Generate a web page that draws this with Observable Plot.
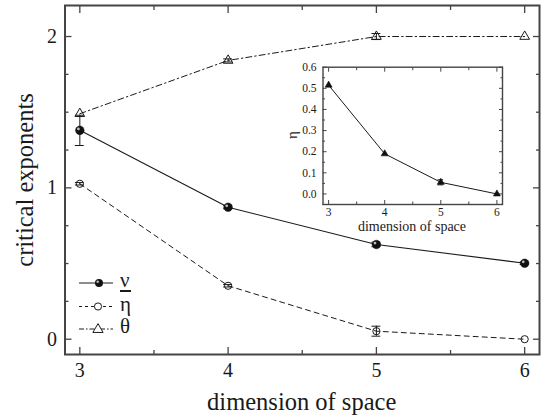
<!DOCTYPE html>
<html>
<head>
<meta charset="utf-8">
<script src="https://cdn.jsdelivr.net/npm/d3@7"></script>
<script src="https://cdn.jsdelivr.net/npm/@observablehq/plot@0.6"></script>
<style>
  html, body { margin: 0; padding: 0; background: #fff; }
  #wrap { position: relative; width: 541px; height: 419px; color: #1a1a1a; }
  #inset { position: absolute; left: 270px; top: 60px; }
  svg { overflow: visible; }
  .lbl { position: absolute; white-space: nowrap; line-height: 1; transform: translate(-50%, -50%); }
  .rot { transform: translate(-50%, -50%) rotate(-90deg); }
  .leg { position: absolute; white-space: nowrap; line-height: 1; }
</style>
</head>
<body>
<div id="wrap"><div id="main"></div><div id="inset"></div></div>
<script>
// ---- data ----
const dims = [3, 4, 5, 6];
const nu = [1.38, 0.872, 0.626, 0.502];
const nuErr = [0.1, 0.01, 0.015, 0.008];
const etaBar = [1.027, 0.353, 0.053, 0.0];
const etaBarErr = [0.008, 0.008, 0.033, 0];
const theta = [1.49, 1.842, 2.0, 2.0];
const thetaErr = [0, 0.01, 0.02, 0];
const eta = [0.515, 0.19, 0.055, 0.0];
const etaErr = [0, 0, 0.012, 0];

const xTicks = [3, 4, 5, 6];
const xMinor = [3.5, 4.5, 5.5];
const yTicks = [0, 1, 2];
const yMinor = [0.25, 0.5, 0.75, 1.25, 1.5, 1.75];
const insetYTicks = [0.0, 0.1, 0.2, 0.3, 0.4, 0.5, 0.6];
const insetYMinor = [-0.05, 0.05, 0.15, 0.25, 0.35, 0.45, 0.55];
const insetXMinor = [3.5, 4.5, 5.5];

const legendItems = ["ν", "η", "θ"];
const xLabel = "dimension of space";
const yLabel = "critical exponents";
const insetYLabel = "η";

// ---- tables ----
const mk = (vals, errs) => dims.map((d, i) => ({x: d, y: vals[i], e: errs[i]}));
const sNu = mk(nu, nuErr), sEtaBar = mk(etaBar, etaBarErr), sTheta = mk(theta, thetaErr), sEta = mk(eta, etaErr);
const withErr = (s) => s.filter(d => d.e > 0);

const ink = "#1a1a1a";
const axisInk = "#444";
const FONT = "'Liberation Serif'";

function errMarks(s, cap) {
  const d = withErr(s);
  return [
    Plot.ruleX(d, {x: "x", y1: r => r.y - r.e, y2: r => r.y + r.e, stroke: ink, strokeWidth: 1}),
    Plot.ruleY(d, {y: r => r.y - r.e, x1: r => r.x - cap, x2: r => r.x + cap, stroke: ink, strokeWidth: 1}),
    Plot.ruleY(d, {y: r => r.y + r.e, x1: r => r.x - cap, x2: r => r.x + cap, stroke: ink, strokeWidth: 1})
  ];
}
function serifize(svg) {
  svg.setAttribute("font-family", "Liberation Serif");
  d3.select(svg).selectAll("text").each(function() {
    this.setAttribute("font-family", "Liberation Serif");
    this.style.fontFamily = FONT;
  });
}
const wrap = document.getElementById("wrap");
function addLabel(text, cls, x, y, fs) {
  const el = document.createElement("div");
  el.className = cls;
  el.style.fontFamily = FONT;
  el.style.left = x + "px";
  el.style.top = y + "px";
  el.style.fontSize = fs + "px";
  el.textContent = text;
  wrap.appendChild(el);
  return el;
}

const main = Plot.plot({
  width: 541, height: 419,
  marginLeft: 64.5, marginRight: 2, marginTop: 5, marginBottom: 65,
  x: {domain: [2.9, 6.1], label: null},
  y: {domain: [-0.101, 2.205], label: null},
  marks: [
    Plot.axisX(xTicks, {anchor: "bottom", tickSize: -7, tickPadding: 15, fontSize: 20, tickFormat: d3.format("d"), stroke: axisInk, fill: ink, strokeWidth: 1.3, label: null}),
    Plot.axisX(xMinor, {anchor: "bottom", tickSize: -4, text: null, stroke: axisInk, strokeWidth: 1.3, label: null}),
    Plot.axisX(xTicks, {anchor: "top", tickSize: -7, text: null, stroke: axisInk, strokeWidth: 1.3, label: null}),
    Plot.axisX(xMinor, {anchor: "top", tickSize: -4, text: null, stroke: axisInk, strokeWidth: 1.3, label: null}),
    Plot.axisY(yTicks, {anchor: "left", tickSize: -7, tickPadding: 15, fontSize: 20, tickFormat: d3.format("d"), stroke: axisInk, fill: ink, strokeWidth: 1.3, label: null}),
    Plot.axisY(yMinor, {anchor: "left", tickSize: -4, text: null, stroke: axisInk, strokeWidth: 1.3, label: null}),
    Plot.axisY(yTicks, {anchor: "right", tickSize: -7, text: null, stroke: axisInk, strokeWidth: 1.3, label: null}),
    Plot.axisY(yMinor, {anchor: "right", tickSize: -4, text: null, stroke: axisInk, strokeWidth: 1.3, label: null}),
    Plot.frame({stroke: axisInk, strokeWidth: 2}),
    Plot.line(sTheta, {x: "x", y: "y", stroke: ink, strokeWidth: 1, strokeDasharray: "6,3,1.5,3"}),
    Plot.line(sEtaBar, {x: "x", y: "y", stroke: ink, strokeWidth: 1, strokeDasharray: "5,4"}),
    Plot.line(sNu, {x: "x", y: "y", stroke: ink, strokeWidth: 1.1}),
    ...errMarks(sNu, 0.03),
    ...errMarks(sEtaBar, 0.03),
    ...errMarks(sTheta, 0.03),
    Plot.dot(sNu, {x: "x", y: "y", r: 4.3, fill: "#111", stroke: "#111", strokeWidth: 0.5}),
    Plot.dot(sNu, {x: "x", y: "y", r: 1.4, fill: "#bbb", dx: -1.4, dy: -1.4}),
    Plot.dot(sEtaBar, {x: "x", y: "y", r: 3.6, fill: "none", stroke: ink, strokeWidth: 1}),
    Plot.dot(sTheta, {x: "x", y: "y", symbol: "triangle", r: 3.6, fill: "none", stroke: ink, strokeWidth: 1})
  ]
});
document.getElementById("main").appendChild(main);

// legend symbols (svg) + legend texts (html)
{
  const svg = d3.select(main);
  const g = svg.append("g").attr("fill", ink);
  const rows = [
    {y: 283, dash: null, kind: "nu"},
    {y: 306.5, dash: "3,3", kind: "eta"},
    {y: 329, dash: "5,2,1.5,2", kind: "theta"}
  ];
  rows.forEach((r, i) => {
    g.append("line").attr("x1", 79).attr("x2", 113).attr("y1", r.y).attr("y2", r.y)
      .attr("stroke", ink).attr("stroke-width", 1).attr("stroke-dasharray", r.dash);
    if (r.kind === "nu") {
      g.append("circle").attr("cx", 99).attr("cy", r.y).attr("r", 4).attr("fill", "#111");
      g.append("circle").attr("cx", 97.7).attr("cy", r.y - 1.3).attr("r", 1.3).attr("fill", "#bbb");
    } else if (r.kind === "eta") {
      g.append("circle").attr("cx", 98).attr("cy", r.y).attr("r", 3.6).attr("fill", "#fff").attr("stroke", ink);
    } else {
      g.append("path").attr("d", d3.symbol(d3.symbolTriangle, 45)()).attr("transform", `translate(98,${r.y + 0.5})`)
        .attr("fill", "#fff").attr("stroke", ink);
    }
    const fs = 21;
    const el = addLabel(legendItems[i], "leg", 120, r.y + 5 - 0.8375 * fs, fs);
    if (r.kind === "eta") el.style.textDecoration = "overline";
  });
}
serifize(main);

// axis titles
addLabel(yLabel, "lbl rot", 25, 179.5, 24.5);
addLabel(xLabel, "lbl", 301.7, 402, 24.5);

// inset
const inset = Plot.plot({
  width: 240, height: 180,
  marginLeft: 52.5, marginRight: 8, marginTop: 6.7, marginBottom: 36,
  x: {domain: [2.9, 6.1], label: null},
  y: {domain: [-0.05, 0.6], label: null},
  marks: [
    Plot.axisX(xTicks, {anchor: "bottom", tickSize: -4, tickPadding: 7, fontSize: 11.5, stroke: axisInk, fill: ink, label: null}),
    Plot.axisX(insetXMinor, {anchor: "bottom", tickSize: -2.5, text: null, stroke: axisInk, label: null}),
    Plot.axisX(xTicks, {anchor: "top", tickSize: -4, text: null, stroke: axisInk, label: null}),
    Plot.axisX(insetXMinor, {anchor: "top", tickSize: -2.5, text: null, stroke: axisInk, label: null}),
    Plot.axisY(insetYTicks, {anchor: "left", tickSize: -4, tickPadding: 10.5, fontSize: 11.5, tickFormat: d3.format(".1f"), stroke: axisInk, fill: ink, label: null}),
    Plot.axisY(insetYMinor, {anchor: "left", tickSize: -2.5, text: null, stroke: axisInk, label: null}),
    Plot.axisY(insetYTicks, {anchor: "right", tickSize: -4, text: null, stroke: axisInk, label: null}),
    Plot.axisY(insetYMinor, {anchor: "right", tickSize: -2.5, text: null, stroke: axisInk, label: null}),
    Plot.frame({stroke: axisInk, strokeWidth: 1.4}),
    Plot.line(sEta, {x: "x", y: "y", stroke: ink, strokeWidth: 1}),
    ...errMarks(sEta, 0.05),
    Plot.dot(sEta, {x: "x", y: "y", symbol: "triangle", r: 2.6, fill: "#111", stroke: "#111", strokeWidth: 0.6})
  ]
});
document.getElementById("inset").appendChild(inset);
serifize(inset);
addLabel(insetYLabel, "lbl rot", 292, 135, 15);
addLabel(xLabel, "lbl", 412, 226.5, 14);
</script>
</body>
</html>
